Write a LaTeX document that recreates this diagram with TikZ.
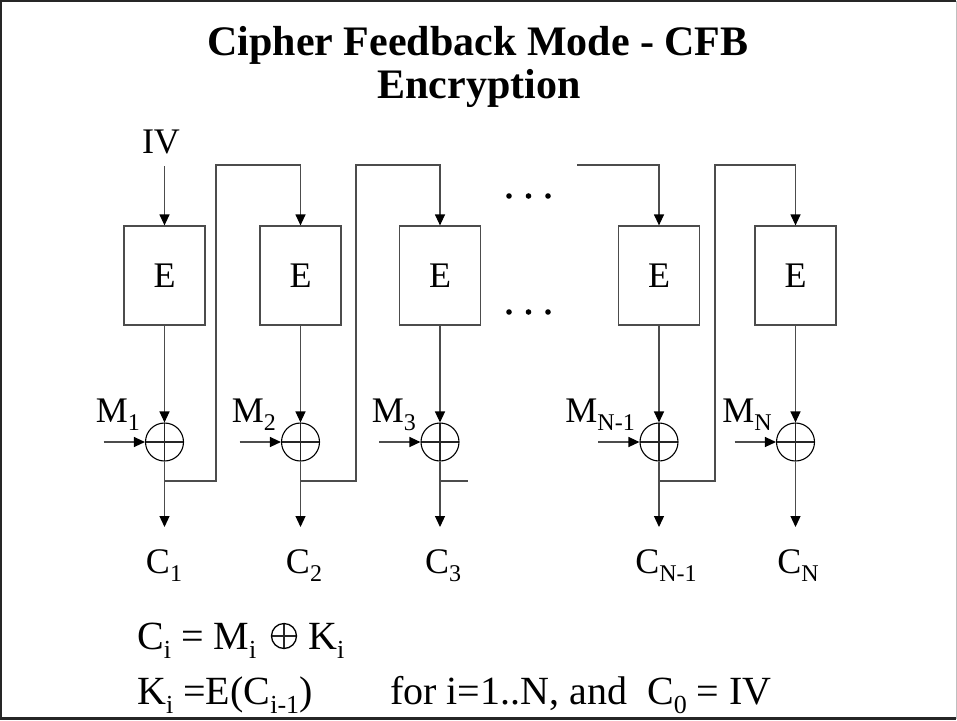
\documentclass[tikz,border=0pt]{standalone}
\usepackage{fontspec}
\setmainfont{Liberation Serif}
\usetikzlibrary{arrows.meta}
\newcommand{\sbs}[1]{\raisebox{-8pt}{\fontsize{24}{24}\selectfont #1}}
\newcommand{\fsb}[1]{\raisebox{-9pt}{\fontsize{26}{26}\selectfont #1}}
\begin{document}
\begin{tikzpicture}[x=1pt,y=-1pt,
  lbl/.style={font=\fontsize{36}{40}\selectfont, inner sep=0pt},
  fml/.style={font=\fontsize{40}{44}\selectfont, inner sep=0pt},
  ttl/.style={font=\fontsize{42}{48}\selectfont\bfseries, inner sep=0pt},
  ebox/.style={draw=black!70, line width=1.2pt, minimum width=81pt, minimum height=99pt, inner sep=0pt, font=\fontsize{36}{40}\selectfont},
  crossed/.style={path picture={\draw[black!85, line width=#1] (path picture bounding box.north)--(path picture bounding box.south) (path picture bounding box.west)--(path picture bounding box.east);}},
  xorc/.style={circle, draw=black, line width=1.1pt, minimum size=38pt, inner sep=0pt, crossed=1.1pt},
  opl/.style={circle, draw=black, line width=1.3pt, minimum size=25pt, inner sep=0pt, crossed=1.3pt},
  ln/.style={draw=black!70, line width=1.2pt},
  arr/.style={ln, -{Triangle[length=11pt,width=10pt,color=black]}}
]
\useasboundingbox (0,0) rectangle (957,720);
% frame
\draw[black!85, line width=2.2pt] (956,1.1) -- (1.1,1.1) -- (1.1,718.5) -- (956,718.5);
\draw[black!25, line width=1pt] (956,1.1) -- (956,718.5);

% title
\node[ttl, anchor=base] (T1) at (478,55) {Cipher Feedback Mode - CFB};
\node[ttl, anchor=base] (T2) at (479,98) {Encryption};

% boxes
\node[ebox] (E1) at (164.5,275.5) {E};
\node[ebox] (E2) at (300.5,275.5) {E};
\node[ebox] (E3) at (440,275.5) {E};
\node[ebox] (E4) at (659,275.5) {E};
\node[ebox] (E5) at (795.5,275.5) {E};

% xor
\node[xorc] (X1) at (164.5,442) {};
\node[xorc] (X2) at (300.5,442) {};
\node[xorc] (X3) at (440,442) {};
\node[xorc] (X4) at (659,442) {};
\node[xorc] (X5) at (795.5,442) {};

% labels
\node[lbl, anchor=base] (IV) at (161,153) {IV};
\node[lbl, anchor=base east] (M1) at (140,422) {M\sbs{1}};
\node[lbl, anchor=base east] (M2) at (276,422) {M\sbs{2}};
\node[lbl, anchor=base east] (M3) at (416,422) {M\sbs{3}};
\node[lbl, anchor=base east] (M4) at (635,422) {M\sbs{N-1}};
\node[lbl, anchor=base east] (M5) at (772,422) {M\sbs{N}};
\node[lbl, anchor=base] (C1) at (164,573) {C\sbs{1}};
\node[lbl, anchor=base] (C2) at (304,573) {C\sbs{2}};
\node[lbl, anchor=base] (C3) at (443,573) {C\sbs{3}};
\node[lbl, anchor=base] (C4) at (666,573) {C\sbs{N-1}};
\node[lbl, anchor=base] (C5) at (798,573) {C\sbs{N}};

% coordinates
\coordinate (iv0) at (164.5,166);
\foreach \i/\x in {1/164.5,2/300.5,3/440,4/659,5/795.5}{
  \coordinate (m\i) at (\x-61,442);
  \coordinate (o\i) at (\x,527);
  \coordinate (f\i) at (\x,481);
}
\coordinate (v1) at (216,165);
\coordinate (v2) at (356,165);
\coordinate (v4) at (715,165);
\coordinate (s3) at (468,481);
\coordinate (s4) at (577,165);

% connectors
\draw[arr] (iv0) -- (E1.north);
\foreach \i in {1,...,5}{
  \draw[arr] (E\i.south) -- (X\i.north);
  \draw[arr] (X\i.south) -- (o\i);
  \draw[arr] (m\i) -- (X\i.west);
}
\draw[arr] (f1) -| (v1) -| (E2.north);
\draw[arr] (f2) -| (v2) -| (E3.north);
\draw[ln] (f3) -- (s3);
\draw[arr] (s4) -| (E4.north);
\draw[arr] (f4) -| (v4) -| (E5.north);

% dots
\foreach \x in {509,528.5,548}{
  \fill (\x,196) circle (2.8pt);
  \fill (\x,312) circle (2.8pt);
}

% formulas
\node[fml, anchor=base west] (F1) at (137,649) {C\fsb{i} = M\fsb{i}};
\node[opl] (P) at (284,636) {};
\node[fml, anchor=base west] (F1b) at (308,649) {K\fsb{i}};
\node[fml, anchor=base west] (F2) at (137,704) {K\fsb{i} =E(C\fsb{i-1})};
\node[fml, anchor=base west] (F3) at (390,704) {for i=1..N, and\ \ C\fsb{0} = IV};
\end{tikzpicture}
\end{document}
